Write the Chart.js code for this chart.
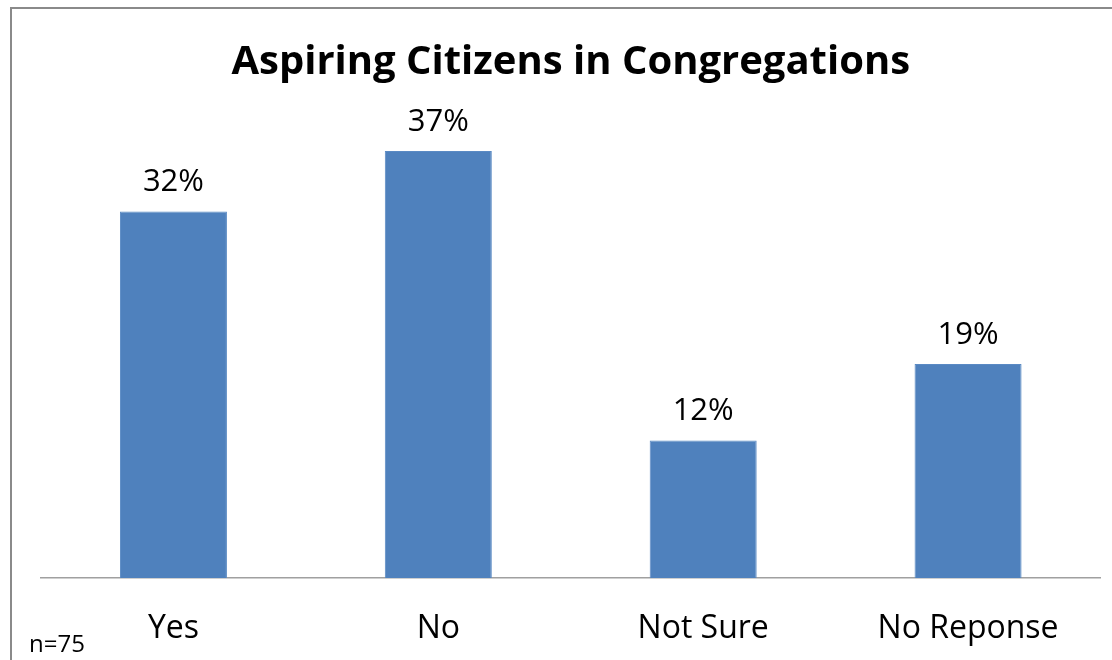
<!DOCTYPE html>
<html>
<head>
<meta charset="utf-8">
<script src="https://cdn.jsdelivr.net/npm/chart.js@4.4.1/dist/chart.umd.min.js"></script>
<style>
  html, body { margin: 0; padding: 0; background: #ffffff; }
  #wrap { width: 1112px; height: 660px; position: relative; }
</style>
</head>
<body>
<div id="wrap"><canvas id="c" width="1112" height="660"></canvas></div>
<script>
const categories = ["Yes", "No", "Not Sure", "No Reponse"];
const values = [32, 37.3, 12, 18.7];
const chartTitle = "Aspiring Citizens in Congregations";
const footnote = "n=75";

const FONT = "'Open Sans', 'Noto Sans', sans-serif";

const decor = {
  id: 'decor',
  beforeDraw(chart) {
    const ctx = chart.ctx;
    ctx.save();
    ctx.fillStyle = '#ffffff';
    ctx.fillRect(0, 0, chart.width, chart.height);
    ctx.strokeStyle = '#8a8a8a';
    ctx.lineWidth = 2;
    ctx.strokeRect(11, 8, chart.width + 20, chart.height + 20);
    ctx.restore();
  },
  afterDatasetsDraw(chart) {
    const ctx = chart.ctx;
    const meta = chart.getDatasetMeta(0);
    ctx.save();
    ctx.fillStyle = '#000000';
    ctx.font = "31px " + FONT;
    ctx.textAlign = 'center';
    ctx.textBaseline = 'middle';
    meta.data.forEach((bar, i) => {
      ctx.fillText(Math.round(values[i]) + '%', bar.x, bar.y - 29);
    });
    ctx.font = "24px " + FONT;
    ctx.textAlign = 'left';
    ctx.textBaseline = 'alphabetic';
    ctx.fillText(footnote, 29, 652);
    ctx.restore();
  }
};

new Chart(document.getElementById('c'), {
  type: 'bar',
  data: {
    labels: categories,
    datasets: [{
      data: values,
      backgroundColor: '#4f81bd',
      borderColor: '#5a8ac4',
      borderWidth: 1,
      categoryPercentage: 1.0,
      barPercentage: 0.404
    }]
  },
  options: {
    responsive: false,
    animation: false,
    layout: { padding: { left: 41, right: 11.5, top: 0, bottom: 0 } },
    plugins: {
      legend: { display: false },
      tooltip: { enabled: false },
      title: {
        display: true,
        text: chartTitle,
        color: '#000000',
        font: { family: FONT, size: 40, weight: 'bold', lineHeight: 1.2 },
        padding: { top: 39, bottom: 33 }
      }
    },
    scales: {
      x: {
        grid: { display: false, drawTicks: false },
        border: { display: true, color: '#a0a0a0', width: 1.5 },
        ticks: { color: '#000000', font: { family: FONT, size: 32 }, padding: 32 },
        afterFit(scale) { scale.height = 82; }
      },
      y: {
        display: false,
        min: 0,
        max: 40
      }
    }
  },
  plugins: [decor]
});
</script>
</body>
</html>
